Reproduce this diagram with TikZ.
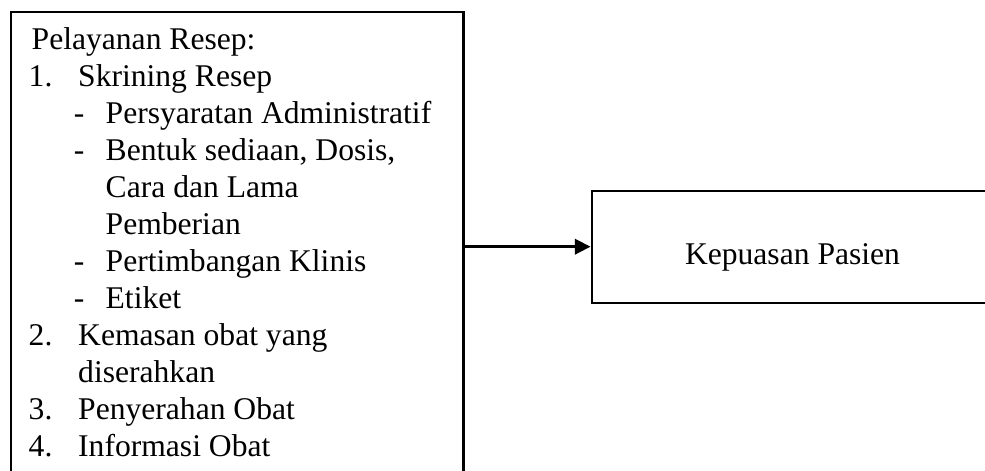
\documentclass[tikz,border=0pt]{standalone}
\usepackage{fontspec}
\setmainfont{Liberation Serif}
\usetikzlibrary{arrows.meta}
\newcommand\numln[2]{\makebox[49.5pt][l]{#1}#2}
\newcommand\dashln[1]{\hspace*{45.2pt}\makebox[31.8pt][l]{-}#1}
\newcommand\contA[1]{\hspace*{49.5pt}#1}
\newcommand\contB[1]{\hspace*{77pt}#1}
\begin{document}
\begin{tikzpicture}[x=1pt,y=-1pt,
  boxframe/.style={draw=black, line width=2.4pt, rectangle, inner sep=0pt},
  txt/.style={inner sep=0pt, anchor=base west, font=\fontsize{31.6}{37}\selectfont},
  conn/.style={draw=black, line width=2.6pt, -{Triangle[length=15.7pt,width=15.4pt]}}]
\path[use as bounding box] (0,0) rectangle (985,471);
\clip (0,0) rectangle (985,471);
% left box (its bottom lies below the picture)
\node[boxframe, anchor=north west, minimum width=452.7pt, minimum height=500pt] (lbox) at (9.5,11) {};
% right box (its right side lies beyond the picture)
\node[boxframe, minimum width=401.6pt, minimum height=112pt] (rbox) at (792.5,246.7) {};
\node[txt, anchor=base] (rtext) at (792.5,264) {Kepuasan Pasien};
% texts of the left box
\node[txt] (l1)  at (31.5,49.3)  {Pelayanan Resep:};
\node[txt] (l2)  at (28.5,86.34) {\numln{1.}{Skrining Resep}};
\node[txt] (l3)  at (28.5,123.38) {\dashln{Persyaratan Administratif}};
\node[txt] (l4)  at (28.5,160.42) {\dashln{Bentuk sediaan, Dosis,}};
\node[txt] (l5)  at (28.5,197.46) {\contB{Cara dan Lama}};
\node[txt] (l6)  at (28.5,234.5) {\contB{Pemberian}};
\node[txt] (l7)  at (28.5,271.54) {\dashln{Pertimbangan Klinis}};
\node[txt] (l8)  at (28.5,308.58) {\dashln{Etiket}};
\node[txt] (l9)  at (28.5,345.62) {\numln{2.}{Kemasan obat yang}};
\node[txt] (l10) at (28.5,382.66) {\contA{diserahkan}};
\node[txt] (l11) at (28.5,419.7) {\numln{3.}{Penyerahan Obat}};
\node[txt] (l12) at (28.5,456.74) {\numln{4.}{Informasi Obat}};
% connector
\draw[conn] (lbox.east |- rbox.west) -- (rbox.west);
\end{tikzpicture}
\end{document}
